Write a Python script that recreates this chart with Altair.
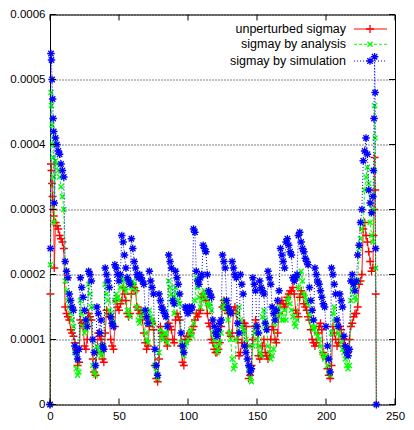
import altair as alt
import pandas as pd

# ---------------- data (values in units of 1e-4) ----------------
x_left = [0, 0.3, 0.7, 1.1, 1.5, 1.9, 2.3, 2.7, 3.1]
x_right = [234.4, 234.8, 235.2, 235.6, 236.0, 236.5]
x_pos = x_left + list(range(4, 235)) + x_right

unperturbed = [
    0, 1.7, 3.7, 3.6, 3.4, 3.2, 3.0, 2.9, 2.1,
    2.8, 2.75, 2.7, 2.6, 2.55, 2.5, 2.4,
    1.5, 1.4, 1.35, 1.3, 1.15, 1.1, 1.05, 0.95, 0.85, 0.6,
    0.65, 1.3, 1.25, 1.2, 0.9, 0.85, 1.0, 1.4, 1.35, 1.3,
    0.7, 0.5, 0.45, 0.8, 1.1, 1.05, 1.0, 0.7, 0.65, 1.1,
    1.45, 1.4, 1.35, 1.0, 0.9, 0.85, 1.2, 1.6, 1.5, 1.45,
    1.55, 1.6, 1.8, 1.7, 1.6, 1.4, 1.35, 1.4, 1.7, 1.85,
    1.8, 1.75, 1.5, 1.45, 1.4, 1.45, 1.3, 1.1, 0.95, 0.85,
    0.9, 1.2, 1.3, 1.25, 1.15, 0.6, 0.4, 0.35, 0.7, 1.2,
    1.1, 1.05, 1.0, 1.0, 0.9, 1.25, 1.2, 1.15, 1.0, 0.95,
    1.3, 1.4, 1.35, 1.3, 0.9, 0.65, 0.6, 1.0, 1.05, 1.0,
    1.05, 1.1, 1.15, 1.2, 1.3, 1.4, 1.35, 1.4, 1.45, 1.65,
    1.7, 1.65, 1.6, 1.4, 1.25, 1.2, 1.0, 0.95, 0.85, 0.8,
    0.8, 0.85, 0.95, 1.2, 1.5, 1.6, 1.55, 1.45, 1.4, 1.1,
    1.05, 1.1, 1.45, 1.5, 1.4, 1.0, 0.75, 0.8, 0.95, 1.25,
    1.25, 1.2, 0.9, 0.4, 0.45, 0.6, 1.0, 1.2, 1.3, 1.2,
    0.75, 0.7, 0.75, 0.9, 1.0, 0.8, 0.75, 0.7, 0.75, 1.0,
    1.2, 1.15, 1.0, 0.95, 1.1, 1.4, 1.55, 1.6, 1.55, 1.5,
    1.55, 1.65, 1.7, 1.75, 1.75, 1.8, 1.7, 1.45, 1.4, 1.35,
    1.65, 1.75, 1.7, 1.55, 1.5, 1.45, 1.35, 1.3, 1.15, 1.0,
    0.95, 0.9, 0.95, 1.1, 1.2, 1.25, 1.15, 0.8, 0.75, 0.7,
    0.55, 0.45, 0.4, 0.6, 1.2, 1.1, 1.0, 0.9, 0.95, 1.2,
    1.15, 1.05, 1.0, 0.9, 0.85, 0.8, 1.0, 1.2, 1.25, 1.35,
    1.4, 1.4, 1.5, 1.85, 1.9, 2.0, 2.7, 2.8, 2.6, 2.5,
    2.35, 2.2, 2.05, 2.1,
    2.6, 3.0, 3.8, 3.3, 1.7, 0,
]

analysis = [
    0, 2.15, 4.8, 4.6, 4.3, 4.0, 3.8, 3.5, 2.8,
    3.75, 3.7, 3.6, 3.5, 3.35, 3.2, 3.0,
    1.9, 1.75, 1.6, 1.5, 1.4, 1.3, 1.2, 0.8, 0.55, 0.45,
    0.5, 1.6, 1.4, 1.2, 1.1, 1.15, 1.3, 1.85, 1.7, 1.5,
    0.6, 0.5, 0.45, 0.9, 0.85, 0.8, 0.75, 0.8, 0.9, 1.85,
    1.7, 1.6, 1.45, 1.4, 1.3, 1.25, 1.6, 1.7, 1.65, 1.6,
    1.8, 1.95, 1.9, 1.8, 1.75, 1.45, 1.4, 1.35, 1.8, 1.9,
    1.85, 1.75, 1.5, 1.3, 1.25, 1.35, 1.45, 1.4, 1.1, 1.0,
    0.95, 1.45, 1.35, 1.3, 1.25, 0.6, 0.5, 0.4, 0.8, 1.15,
    1.05, 1.0, 1.1, 1.1, 0.95, 1.9, 1.8, 1.7, 1.65, 1.4,
    1.8, 1.7, 1.6, 1.55, 0.95, 0.85, 0.75, 0.9, 0.95, 1.0,
    1.1, 1.15, 1.05, 1.25, 1.6, 1.95, 1.8, 1.65, 1.5, 1.6,
    1.7, 1.75, 1.65, 1.55, 1.5, 1.55, 1.45, 1.1, 1.0, 0.9,
    0.8, 0.85, 0.95, 1.1, 1.5, 1.6, 1.55, 1.45, 1.3, 1.1,
    1.0, 0.7, 0.55, 0.6, 1.0, 1.4, 1.5, 1.3, 1.2, 1.15,
    1.1, 1.0, 0.9, 0.55, 0.4, 0.35, 0.9, 1.1, 1.2, 1.0,
    0.9, 0.8, 0.75, 1.35, 1.45, 1.3, 1.2, 0.9, 0.8, 0.7,
    0.75, 0.85, 1.25, 1.35, 1.45, 1.5, 1.4, 1.3, 1.3, 1.45,
    1.3, 1.6, 1.65, 1.55, 1.45, 1.35, 1.25, 1.2, 1.3, 1.8,
    2.0, 2.05, 1.9, 1.7, 1.65, 1.6, 1.55, 1.4, 1.3, 1.2,
    1.15, 1.2, 1.1, 1.05, 1.0, 0.9, 0.8, 0.75, 0.7, 0.75,
    0.6, 0.5, 0.45, 1.1, 1.4, 1.5, 1.3, 1.2, 1.1, 1.05,
    0.95, 0.85, 0.8, 0.7, 0.6, 0.55, 0.6, 1.6, 1.75, 1.8,
    1.65, 1.6, 1.9, 2.4, 2.55, 2.7, 2.8, 3.3, 3.5, 3.65,
    3.4, 2.8, 2.6, 2.5,
    3.0, 3.6, 4.6, 4.1, 2.1, 0,
]

simulation = [
    0, 2.4, 5.4, 5.3, 5.0, 4.7, 4.4, 4.2, 3.1,
    4.1, 4.0, 3.9, 3.85, 3.7, 3.6, 3.5,
    2.2, 2.05, 1.95, 1.7, 1.6, 1.5, 1.45, 0.9, 0.8, 0.7,
    0.85, 1.95, 1.8, 1.65, 1.45, 1.3, 1.2, 2.05, 2.0, 1.9,
    1.0, 0.8, 0.6, 1.5, 1.4, 1.1, 1.3, 0.9, 0.85, 2.1,
    2.0, 1.9, 1.8, 1.35, 1.25, 1.2, 2.15, 2.1, 2.0, 1.9,
    2.0, 2.6, 2.5, 2.3, 2.1, 1.95, 1.9, 1.85, 2.55, 2.4,
    2.2, 2.1, 2.0, 1.95, 2.0, 1.95, 1.9, 1.85, 1.45, 1.35,
    1.25, 2.05, 1.9, 1.8, 1.7, 0.85, 0.6, 0.45, 1.7, 1.6,
    1.5, 1.45, 1.4, 1.35, 1.2, 2.3, 2.2, 2.1, 1.6, 1.55,
    2.05, 1.95, 1.85, 1.7, 1.1, 0.9, 0.8, 1.5, 1.45, 1.4,
    1.5, 1.45, 1.5, 2.7, 2.65, 2.05, 1.9, 1.85, 1.95, 2.0,
    2.45, 2.4, 2.35, 2.0, 1.75, 1.7, 1.65, 1.3, 1.2, 1.1,
    1.05, 1.15, 1.25, 1.3, 2.3, 2.2, 2.1, 1.6, 1.5, 1.45,
    1.4, 2.2, 2.1, 2.0, 1.95, 1.25, 1.1, 2.0, 1.85, 1.7,
    0.9, 0.8, 0.7, 0.6, 0.5, 0.55, 1.95, 1.85, 1.75, 1.2,
    1.1, 1.9, 1.8, 1.75, 1.7, 1.25, 1.15, 2.05, 1.95, 1.85,
    1.5, 1.4, 1.3, 1.45, 1.6, 1.75, 2.4, 2.3, 2.2, 2.1,
    2.5, 2.55, 2.45, 2.35, 2.3, 1.95, 1.9, 1.95, 2.0, 2.6,
    2.65, 2.5, 2.4, 2.35, 2.25, 2.2, 2.15, 1.8, 1.6, 1.45,
    1.3, 2.1, 2.0, 1.9, 1.85, 1.75, 1.65, 1.55, 1.5, 1.2,
    0.9, 0.7, 0.5, 2.1, 2.0, 1.85, 1.7, 1.3, 1.2, 1.7,
    1.6, 1.5, 1.05, 0.9, 0.8, 0.75, 0.85, 1.9, 2.0, 1.85,
    1.75, 1.9, 2.3, 2.45, 2.8, 3.0, 3.75, 3.9, 4.1, 3.85,
    3.3, 3.1, 2.95, 3.2,
    3.6, 4.4, 5.35, 4.8, 2.4, 0,
]

UNIT = 1e-4
x_ticks = [0, 50, 100, 150, 200, 250]
y_ticks = [0, 0.0001, 0.0002, 0.0003, 0.0004, 0.0005, 0.0006]
series_names = ["unperturbed sigmay", "sigmay by analysis", "sigmay by simulation"]
series_colors = ["#ff0000", "#00ff00", "#0000ff"]

assert len(unperturbed) == len(x_pos) == len(analysis) == len(simulation)

# ---------------- styling ----------------
W, H = 345, 390
FONT = "Liberation Sans Narrow, Arial Narrow, Liberation Sans, Arial, sans-serif"
FS_AXIS = 11.5
FS_KEY = 12.5
PLUS = "M-1,0L1,0M0,-1L0,1"
CROSS = "M-0.75,-0.75L0.75,0.75M-0.75,0.75L0.75,-0.75"
STAR = "M-1,0L1,0M0,-1L0,1M-0.72,-0.72L0.72,0.72M-0.72,0.72L0.72,-0.72"
shapes = [PLUS, CROSS, STAR]
dashes = [[1, 0], [3, 2], [1, 2]]
sizes = [64, 45, 56]

xscale = alt.Scale(domain=[0, 250], nice=False, zero=False)
yscale = alt.Scale(domain=[0, 0.0006], nice=False, zero=True)

x_axis = alt.Axis(values=x_ticks, title=None, ticks=False, domain=False, grid=False,
                  labelFont=FONT, labelFontSize=FS_AXIS, labelColor="black",
                  labelPadding=6, labelFlush=False)
y_axis = alt.Axis(values=y_ticks, title=None, ticks=False, domain=False, grid=True,
                  gridDash=[1, 2], gridColor="black", gridOpacity=1, gridWidth=1,
                  labelFont=FONT, labelFontSize=FS_AXIS, labelColor="black",
                  labelPadding=5, labelFlush=False,
                  labelExpr="datum.value == 0 ? '0' : format(datum.value, '.4f')")

enc_x = alt.X("x:Q", scale=xscale, axis=x_axis)
enc_y = alt.Y("v:Q", scale=yscale, axis=y_axis)

layers = []
for i, (name, vals) in enumerate(zip(series_names, [unperturbed, analysis, simulation])):
    d = pd.DataFrame({"x": x_pos, "v": [v * UNIT for v in vals]})
    line = alt.Chart(d).mark_line(color=series_colors[i], strokeWidth=1,
                                   strokeDash=dashes[i]).encode(x=enc_x, y=enc_y)
    pts = alt.Chart(d).mark_point(shape=shapes[i], size=sizes[i], filled=False,
                                   stroke=series_colors[i], strokeWidth=1.3,
                                   opacity=1).encode(x=enc_x, y=enc_y)
    layers += [line, pts]

# inward ticks on all four sides (gnuplot style)
xt = pd.DataFrame({"x": x_ticks})
yt = pd.DataFrame({"v": y_ticks})
layers += [
    alt.Chart(xt).mark_rule(color="black", strokeWidth=1).encode(x=enc_x, y=alt.value(H), y2=alt.value(H - 6)),
    alt.Chart(xt).mark_rule(color="black", strokeWidth=1).encode(x=enc_x, y=alt.value(0), y2=alt.value(6)),
    alt.Chart(yt).mark_rule(color="black", strokeWidth=1).encode(y=enc_y, x=alt.value(0), x2=alt.value(6)),
    alt.Chart(yt).mark_rule(color="black", strokeWidth=1).encode(y=enc_y, x=alt.value(W - 6), x2=alt.value(W)),
]

# gnuplot-like key: text on the left, sample on the right
row_y = [14.5, 29.8, 46.5]
for i, name in enumerate(series_names):
    ld = pd.DataFrame({"label": [name]})
    layers.append(alt.Chart(ld).mark_text(align="right", baseline="middle", font=FONT,
                                          fontSize=FS_KEY, color="black").encode(
        x=alt.value(296), y=alt.value(row_y[i]), text="label:N"))
    layers.append(alt.Chart(ld).mark_rule(color=series_colors[i], strokeWidth=1,
                                          strokeDash=dashes[i]).encode(
        x=alt.value(304), x2=alt.value(337), y=alt.value(row_y[i])))
    layers.append(alt.Chart(ld).mark_point(shape=shapes[i], size=sizes[i], filled=False,
                                           stroke=series_colors[i], strokeWidth=1.3,
                                           opacity=1).encode(
        x=alt.value(320), y=alt.value(row_y[i])))

chart = alt.layer(*layers).properties(
    width=W, height=H,
    autosize=alt.AutoSizeParams(type="none"),
    padding={"left": 42, "top": 6.5, "right": 11, "bottom": 17.5},
).configure_view(stroke="black", strokeWidth=1)

chart.save("out.html", embed_options={"renderer": "svg", "actions": False})
